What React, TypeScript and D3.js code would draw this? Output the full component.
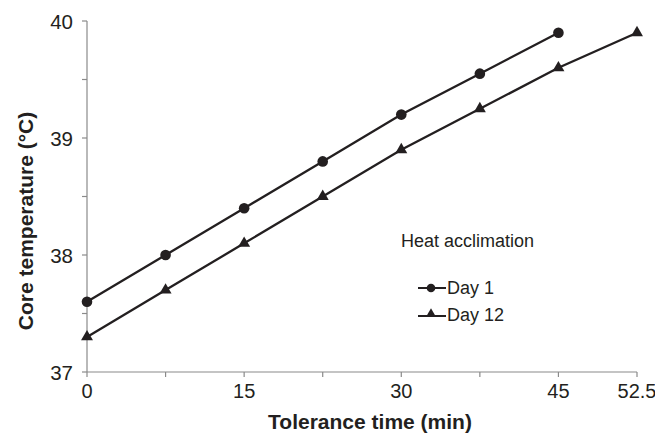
import React from "react";
import * as d3 from "d3";

const timesDay1 = [0, 7.5, 15, 22.5, 30, 37.5, 45];
const day1 = [37.6, 38.0, 38.4, 38.8, 39.2, 39.55, 39.9];
const timesDay12 = [0, 7.5, 15, 22.5, 30, 37.5, 45, 52.5];
const day12 = [37.3, 37.7, 38.1, 38.5, 38.9, 39.25, 39.6, 39.9];
const xTickLabels = [0, 15, 30, 45, 52.5];
const xMinorTicks = [7.5, 22.5, 37.5];
const yTickLabels = [37, 38, 39, 40];
const yMinorTicks = [37.5, 38.5, 39.5];

const W = 655;
const H = 434;
const ink = "#231f20";
const axisCol = "#8a8a8a";
const font = "'Liberation Sans', Arial, Helvetica, sans-serif";

export default function App() {
  const x = d3.scaleLinear().domain([0, 52.5]).range([87, 637]);
  const y = d3.scaleLinear().domain([37, 40]).range([372, 21]);
  const line = d3
    .line<[number, number]>()
    .x((d) => x(d[0]))
    .y((d) => y(d[1]));
  const d1 = timesDay1.map((t, i) => [t, day1[i]] as [number, number]);
  const d12 = timesDay12.map((t, i) => [t, day12[i]] as [number, number]);
  const tri = d3.symbol().type(d3.symbolTriangle).size(62)() as string;
  const triSmall = d3.symbol().type(d3.symbolTriangle).size(44)() as string;

  return (
    <svg
      width={W}
      height={H}
      style={{ position: "absolute", left: 0, top: 0, background: "#fff" }}
      fontFamily={font}
    >
      {/* axes */}
      <line x1={x(0)} x2={x(0)} y1={y(40)} y2={y(37)} stroke={axisCol} strokeWidth={1.2} />
      <line x1={x(0)} x2={x(52.5)} y1={y(37)} y2={y(37)} stroke={axisCol} strokeWidth={1.2} />
      {yTickLabels.concat(yMinorTicks).map((v) => (
        <line key={"yt" + v} x1={x(0) - 5} x2={x(0)} y1={y(v)} y2={y(v)} stroke={axisCol} strokeWidth={1.2} />
      ))}
      {yTickLabels.map((v) => (
        <text key={"yl" + v} x={73} y={y(v) + 8} textAnchor="end" fontSize={20.5} fill={ink}>
          {v}
        </text>
      ))}
      {xTickLabels.concat(xMinorTicks).map((v) => (
        <line key={"xt" + v} x1={x(v)} x2={x(v)} y1={y(37)} y2={y(37) + 5} stroke={axisCol} strokeWidth={1.2} />
      ))}
      {xTickLabels.map((v) => (
        <text key={"xl" + v} x={x(v)} y={398} textAnchor="middle" fontSize={20} fill={ink}>
          {v}
        </text>
      ))}
      <text x={(x(0) + x(52.5)) / 2 + 8} y={429} textAnchor="middle" fontSize={21} fontWeight="bold" fill={ink}>
        Tolerance time (min)
      </text>
      <text
        transform={`translate(33,221) rotate(-90)`}
        textAnchor="middle"
        fontSize={21}
        fontWeight="bold"
        fill={ink}
      >
        Core temperature (°C)
      </text>

      {/* series */}
      <path d={line(d1) as string} fill="none" stroke={ink} strokeWidth={2.3} />
      <path d={line(d12) as string} fill="none" stroke={ink} strokeWidth={2.3} />
      {d1.map((p, i) => (
        <circle key={"c" + i} cx={x(p[0])} cy={y(p[1])} r={5.3} fill={ink} />
      ))}
      {d12.map((p, i) => (
        <path key={"t" + i} d={tri} transform={`translate(${x(p[0])},${y(p[1])})`} fill={ink} />
      ))}

      {/* legend */}
      <text x={401} y={247} fontSize={18} fill={ink}>
        Heat acclimation
      </text>
      <line x1={418} x2={446} y1={288} y2={288} stroke={ink} strokeWidth={2} />
      <circle cx={431} cy={288} r={4.3} fill={ink} />
      <text x={447} y={294} fontSize={18} fill={ink}>
        Day 1
      </text>
      <line x1={418} x2={446} y1={316} y2={316} stroke={ink} strokeWidth={2} />
      <path d={triSmall} transform={`translate(431,314)`} fill={ink} />
      <text x={447} y={321} fontSize={18} fill={ink}>
        Day 12
      </text>
    </svg>
  );
}
